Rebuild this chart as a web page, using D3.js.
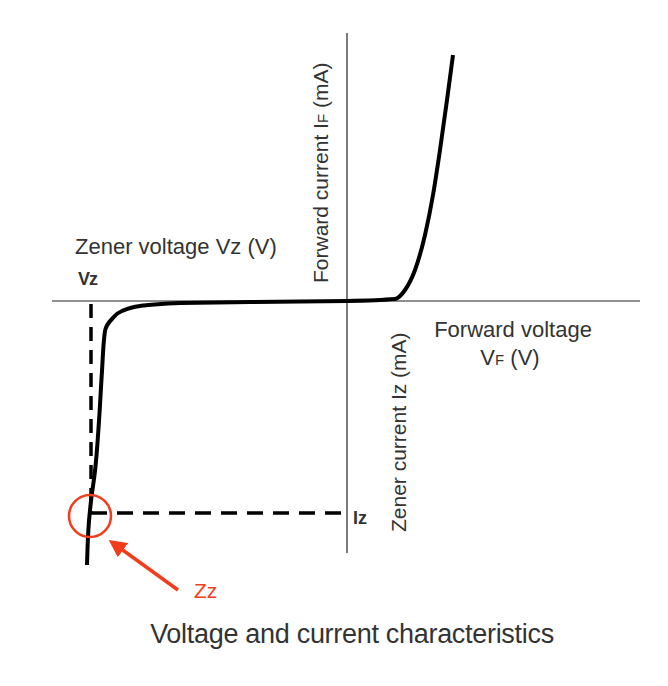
<!DOCTYPE html>
<html lang="en">
<head>
  <meta charset="utf-8">
  <title>Zener diode characteristics</title>
  <script src="https://d3js.org/d3.v7.min.js"></script>
  <style>
    body { margin: 0; background: #fff; }
    text { font-family: "Liberation Sans", Arial, sans-serif; fill: #333; }
  </style>
</head>
<body>
<script>
  // forward branch (V, mA) and reverse (zener) branch, arbitrary units
  const forwardV = [0, 0.96, 1.16, 1.36, 1.56, 1.72, 1.86, 2.0, 2.12];
  const forwardI = [0, 0.04, 0.22, 0.62, 1.32, 2.12, 3.02, 4.02, 4.92];
  const reverseV = [0, -1.94, -3.34, -4.14, -4.5, -4.7, -4.84, -4.9, -4.96, -5.04, -5.12, -5.16, -5.2];
  const reverseI = [0, -0.02, -0.04, -0.1, -0.2, -0.36, -0.6, -1.4, -2.4, -3.4, -4.0, -4.4, -5.28];
  const vz = -5.12;
  const iz = -4.24;

  const width = 668, height = 686;
  const svg = d3.select("body").append("svg")
      .attr("width", width)
      .attr("height", height);

  const x = d3.scaleLinear().domain([-5.9, 5.86]).range([52, 640]);
  const y = d3.scaleLinear().domain([5.36, -5.04]).range([33, 553]);

  // axes
  svg.append("line")
      .attr("x1", x(-5.9)).attr("x2", x(5.86))
      .attr("y1", y(0)).attr("y2", y(0))
      .style("stroke", "#222").style("stroke-width", 1.2);
  svg.append("line")
      .attr("x1", x(0)).attr("x2", x(0))
      .attr("y1", y(5.36)).attr("y2", y(-5.04))
      .style("stroke", "#222").style("stroke-width", 1.2);

  // dashed guides
  svg.append("line")
      .attr("x1", x(vz)).attr("x2", x(vz))
      .attr("y1", y(0) + 3).attr("y2", y(iz))
      .style("stroke", "#000").style("stroke-width", 3.5)
      .style("stroke-dasharray", "14,9");
  svg.append("line")
      .attr("x1", x(vz)).attr("x2", x(0) - 6)
      .attr("y1", y(iz)).attr("y2", y(iz))
      .style("stroke", "#000").style("stroke-width", 3.5)
      .style("stroke-dasharray", "16,10");

  const lineFn = d3.line()
      .x(d => x(d[0]))
      .y(d => y(d[1]))
      .curve(d3.curveMonotoneX);
  const lineFnY = d3.line()
      .x(d => x(d[0]))
      .y(d => y(d[1]))
      .curve(d3.curveMonotoneY);

  svg.append("path")
      .attr("d", lineFn(forwardV.map((v, i) => [v, forwardI[i]])))
      .style("fill", "none").style("stroke", "#000")
      .style("stroke-width", 4).style("stroke-linejoin", "round");
  svg.append("path")
      .attr("d", lineFnY(reverseV.map((v, i) => [v, reverseI[i]])))
      .style("fill", "none").style("stroke", "#000")
      .style("stroke-width", 4).style("stroke-linejoin", "round");

  // Zz marker
  const red = "#f23d1c";
  svg.append("circle")
      .attr("cx", x(vz) - 1).attr("cy", y(iz) + 3).attr("r", 21)
      .style("fill", "none").style("stroke", red).style("stroke-width", 2.5);
  svg.append("defs").append("marker")
      .attr("id", "arr").attr("viewBox", "0 0 10 10")
      .attr("refX", 7).attr("refY", 5)
      .attr("markerWidth", 5).attr("markerHeight", 5)
      .attr("orient", "auto")
      .append("path").attr("d", "M0,0L10,5L0,10z").style("fill", red);
  svg.append("line")
      .attr("x1", 178).attr("y1", 590)
      .attr("x2", 113).attr("y2", 543)
      .style("stroke", red).style("stroke-width", 3.5)
      .attr("marker-end", "url(#arr)");
  svg.append("text")
      .attr("x", 194).attr("y", 598)
      .style("font-size", "21px").style("fill", red)
      .text("Zz");

  // labels
  svg.append("text").attr("x", 75).attr("y", 254)
      .style("font-size", "22px")
      .text("Zener voltage Vz (V)");
  svg.append("text").attr("x", 78).attr("y", 285)
      .style("font-size", "18px").style("font-weight", "bold")
      .style("letter-spacing", "-1px").text("Vz");
  svg.append("text").attr("x", 353).attr("y", 524)
      .style("font-size", "18px").style("font-weight", "bold").text("Iz");

  const fc = svg.append("text")
      .attr("transform", `translate(328,${283}) rotate(-90)`)
      .style("font-size", "21px");
  fc.append("tspan").text("Forward current  I");
  fc.append("tspan").style("font-size", "15px").text("F");
  fc.append("tspan").text(" (mA)");

  svg.append("text")
      .attr("transform", `translate(406,${532}) rotate(-90)`)
      .style("font-size", "21px")
      .text("Zener current  Iz (mA)");

  svg.append("text").attr("x", 513).attr("y", 337)
      .attr("text-anchor", "middle")
      .style("font-size", "22px").text("Forward voltage");
  const vf = svg.append("text").attr("x", 510).attr("y", 365)
      .attr("text-anchor", "middle")
      .style("font-size", "22px");
  vf.append("tspan").text("V");
  vf.append("tspan").style("font-size", "15px").text("F");
  vf.append("tspan").text(" (V)");

  svg.append("text").attr("x", 352).attr("y", 643)
      .attr("text-anchor", "middle")
      .style("font-size", "27px").style("letter-spacing", "-0.3px")
      .text("Voltage and current characteristics");
</script>
</body>
</html>
